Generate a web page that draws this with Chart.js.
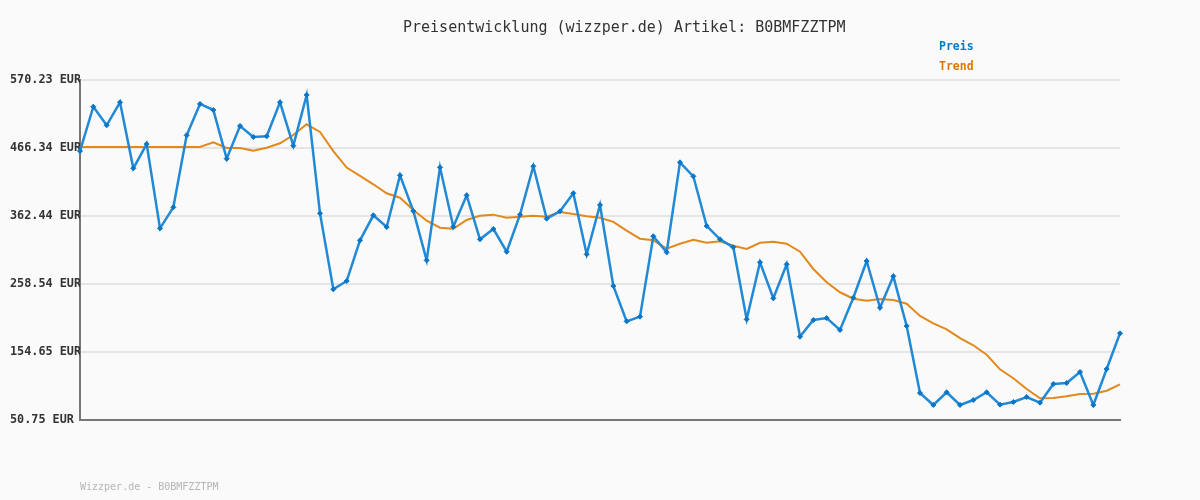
<!DOCTYPE html>
<html>
<head>
<meta charset="utf-8">
<script src="https://cdn.jsdelivr.net/npm/chart.js@4/dist/chart.umd.min.js"></script>
<style>
  html, body { margin: 0; padding: 0; background: #fafafa; }
  #wrap { width: 1200px; height: 500px; }
</style>
</head>
<body>
<div id="wrap"><canvas id="preis" width="1200" height="500"></canvas></div>
<script>
var titel = 'Preisentwicklung (wizzper.de) Artikel: B0BMFZZTPM';
var fusszeile = 'Wizzper.de - B0BMFZZTPM';

var preis = [
	461.7, 529.4, 501.0, 536.2, 435.3, 472.4, 343.6, 375.7, 485.7, 533.6,
	524.4, 450.0, 500.0, 483.1, 484.2, 536.2, 469.9, 547.3, 366.5, 250.4,
	263.1, 325.3, 363.5, 345.6, 424.6, 370.1, 294.7, 436.8, 346.1, 394.0,
	326.8, 342.6, 307.9, 364.5, 438.4, 358.4, 369.6, 397.1, 303.9, 379.3,
	255.5, 201.5, 208.6, 331.4, 307.0, 444.4, 423.1, 347.2, 326.8, 314.6,
	204.6, 291.7, 236.7, 288.6, 178.1, 203.5, 206.6, 188.3, 237.6, 293.7,
	222.3, 270.3, 194.4, 92.0, 73.7, 93.1, 73.7, 81.3, 93.1, 74.2,
	78.3, 85.9, 77.2, 105.8, 107.3, 124.1, 73.7, 128.7, 183.2
];

var trend = [
	468.0, 468.0, 468.0, 468.0, 468.0, 468.0, 468.0, 468.0, 468.0, 468.0,
	475.0, 466.3, 466.3, 462.2, 466.8, 473.5, 486.2, 502.5, 490.8, 461.7,
	436.5, 423.6, 410.9, 397.1, 390.4, 371.6, 355.3, 344.6, 343.0, 356.3,
	362.9, 364.5, 359.8, 361.4, 362.9, 361.4, 368.5, 365.5, 362.0, 359.8,
	353.5, 340.0, 327.8, 325.3, 312.5, 320.1, 326.2, 321.6, 323.8, 317.1,
	312.0, 321.6, 323.2, 320.1, 307.9, 281.5, 261.1, 245.9, 236.1, 233.1,
	235.6, 234.1, 228.4, 209.7, 198.5, 189.3, 176.0, 164.9, 150.5, 128.2,
	114.5, 98.1, 83.9, 84.4, 87.0, 90.5, 91.0, 95.5, 105.3
];

var yTicks = [50.75, 154.65, 258.54, 362.44, 466.34, 570.23];

var labels = [];
for (var i = 0; i < preis.length; i++) labels.push(String(i + 1));

var mono = '"DejaVu Sans Mono", "Liberation Mono", monospace';

// hintergrund, titel, legende rechts oben, fusszeile
var extras = {
	id: 'extras',
	beforeDraw: function(chart) {
		var c = chart.ctx;
		c.save();
		c.fillStyle = '#fafafa';
		c.fillRect(0, 0, chart.width, chart.height);
		c.restore();
	},
	afterDraw: function(chart) {
		var c = chart.ctx;
		c.save();
		c.textBaseline = 'middle';
		c.textAlign = 'left';
		c.font = '15px ' + mono;
		c.fillStyle = '#333';
		c.fillText(titel, 403, 28);

		c.font = 'bold 11.5px ' + mono;
		c.fillStyle = '#0a7ac6';
		c.fillText(chart.data.datasets[0].label, 939, 47);
		c.fillStyle = '#dc7800';
		c.fillText(chart.data.datasets[1].label, 939, 67);

		c.font = '10px ' + mono;
		c.fillStyle = '#b5b5b5';
		c.fillText(fusszeile, 80, 487);
		c.restore();
	}
};

var ctx = document.getElementById('preis').getContext('2d');
var chart = new Chart(ctx, {
	type: 'line',
	data: {
		labels: labels,
		datasets: [{
			label: 'Preis',
			data: preis,
			borderColor: '#2189d6',
			borderWidth: 2.5,
			pointStyle: 'rectRot',
			pointRadius: 2.5,
			pointBackgroundColor: '#0a76c8',
			pointBorderColor: '#0a76c8',
			pointBorderWidth: 1,
			tension: 0
		}, {
			label: 'Trend',
			data: trend,
			borderColor: '#e2891c',
			borderWidth: 2,
			pointRadius: 0,
			tension: 0
		}]
	},
	options: {
		responsive: false,
		animation: false,
		layout: { padding: { top: 80, right: 80, bottom: 80, left: 10 } },
		plugins: {
			legend: { display: false },
			title: { display: false },
			tooltip: { enabled: false }
		},
		scales: {
			x: {
				type: 'category',
				offset: false,
				ticks: { display: false },
				grid: { display: false, drawTicks: false },
				border: { color: '#777', width: 2 },
				afterFit: function(s) { s.height = 0; }
			},
			y: {
				min: yTicks[0],
				max: yTicks[yTicks.length - 1],
				afterBuildTicks: function(s) {
					s.ticks = yTicks.map(function(v) { return { value: v }; });
				},
				afterFit: function(s) { s.width = 70; },
				ticks: {
					crossAlign: 'far',
					padding: 0,
					color: '#333',
					font: { family: mono, size: 11.8, weight: 'bold' },
					callback: function(v) { return v.toFixed(2) + ' EUR'; }
				},
				grid: { color: '#e5e5e5', lineWidth: 2, drawTicks: false },
				border: { color: '#777', width: 2 }
			}
		}
	},
	plugins: [extras]
});
</script>
</body>
</html>
